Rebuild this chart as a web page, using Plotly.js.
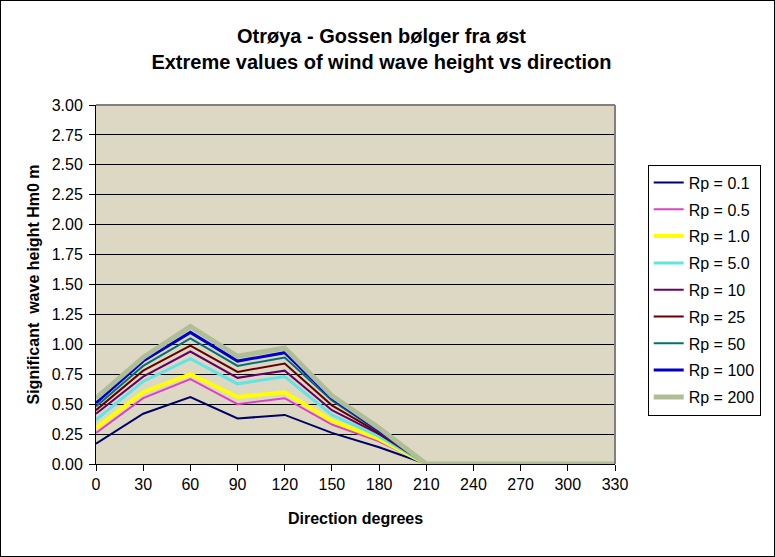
<!DOCTYPE html>
<html>
<head>
<meta charset="utf-8">
<script src="https://cdn.plot.ly/plotly-3.0.1.min.js"></script>
<style>
html,body{margin:0;padding:0;background:#fff;}
#wrap{position:relative;width:775px;height:557px;}
#chart{width:775px;height:557px;}
#frame{position:absolute;left:0;top:0;width:775px;height:557px;box-sizing:border-box;border:1px solid #000;pointer-events:none;}
</style>
</head>
<body>
<div id="wrap"><div id="chart"></div><div id="frame"></div></div>
<script>
const directions = [0, 30, 60, 90, 120, 150, 180, 210, 240, 270, 300, 330];
const seriesNames = ['Rp = 0.1','Rp = 0.5','Rp = 1.0','Rp = 5.0','Rp = 10','Rp = 25','Rp = 50','Rp = 100','Rp = 200'];
const rp0_1 = [0.17, 0.42, 0.56, 0.38, 0.41, 0.26, 0.14, 0, 0, 0, 0, 0];
const rp0_5 = [0.26, 0.55, 0.71, 0.50, 0.55, 0.33, 0.19, 0, 0, 0, 0, 0];
const rp1_0 = [0.30, 0.60, 0.75, 0.56, 0.60, 0.36, 0.21, 0, 0, 0, 0, 0];
const rp5_0 = [0.37, 0.69, 0.88, 0.67, 0.73, 0.41, 0.23, 0, 0, 0, 0, 0];
const rp10  = [0.42, 0.73, 0.94, 0.72, 0.78, 0.45, 0.25, 0, 0, 0, 0, 0];
const rp25  = [0.45, 0.78, 0.99, 0.77, 0.84, 0.49, 0.26, 0, 0, 0, 0, 0];
const rp50  = [0.48, 0.82, 1.05, 0.82, 0.89, 0.53, 0.27, 0, 0, 0, 0, 0];
const rp100 = [0.51, 0.86, 1.10, 0.86, 0.93, 0.55, 0.28, 0, 0, 0, 0, 0];
const rp200 = [0.55, 0.89, 1.15, 0.90, 0.97, 0.57, 0.30, 0, 0, 0, 0, 0];
const seriesValues = [rp0_1, rp0_5, rp1_0, rp5_0, rp10, rp25, rp50, rp100, rp200];
const yTickVals = [0, 0.25, 0.5, 0.75, 1.0, 1.25, 1.5, 1.75, 2.0, 2.25, 2.5, 2.75, 3.0];

const colors = ['#000066','#E040C8','#FFFF00','#60E4E4','#660066','#660000','#007070','#0000CC','#AFBE95'];
const widths = [2, 2, 4, 3, 2, 2, 2, 3, 5];

const traces = seriesNames.map((n, i) => ({
  type: 'scatter', mode: 'lines', name: n,
  x: directions, y: seriesValues[i],
  legendgroup: 'g' + i,
  line: {color: colors[i], width: widths[i]},
  hoverinfo: 'x+y+name'
}));

const font = {family: 'Arial, "Liberation Sans", sans-serif', color: '#000'};

const layout = {
  width: 775, height: 557,
  paper_bgcolor: '#ffffff',
  plot_bgcolor: '#DDD8C4',
  margin: {l: 96, r: 160, t: 105, b: 93, pad: 0},
  font: Object.assign({size: 14}, font),
  title: {
    text: '<b>Otrøya - Gossen bølger fra øst<br>Extreme values of wind wave height vs direction</b>',
    font: Object.assign({size: 20}, font),
    x: 0.55, xref: 'paper', xanchor: 'center',
    y: 0.923, yref: 'container', yanchor: 'top'
  },
  xaxis: {
    range: [0, 330], tickvals: directions, ticktext: directions.map(String),
    ticks: 'outside', ticklen: 6, tickcolor: '#000', tickwidth: 1,
    showline: true, linecolor: '#000', linewidth: 1,
    showgrid: false, zeroline: false,
    tickfont: Object.assign({size: 16}, font),
    title: {text: '<b>Direction degrees</b>', font: Object.assign({size: 16}, font), standoff: 20}
  },
  yaxis: {
    range: [0, 3], tickvals: yTickVals, tickformat: '.2f',
    ticks: 'outside', ticklen: 6, tickcolor: '#000', tickwidth: 1,
    showline: true, linecolor: '#000', linewidth: 1,
    showgrid: true, gridcolor: '#000', gridwidth: 1, zeroline: false,
    tickfont: Object.assign({size: 16}, font),
    ticklabelstandoff: 3,
    title: {text: '<b>Significant  wave height Hm0 m</b>', font: Object.assign({size: 16}, font), standoff: 8}
  },
  showlegend: true,
  legend: {
    x: 1.063, y: 0.834, xanchor: 'left', yanchor: 'top',
    bgcolor: '#ffffff', bordercolor: '#000', borderwidth: 1,
    font: Object.assign({size: 16}, font),
    tracegroupgap: 3, traceorder: 'grouped'
  },
  shapes: [
    {type: 'line', xref: 'paper', yref: 'paper', x0: 0, x1: 1, y0: 1, y1: 1, line: {color: '#808080', width: 2}},
    {type: 'line', xref: 'paper', yref: 'paper', x0: 1, x1: 1, y0: 0, y1: 1, line: {color: '#808080', width: 2}}
  ]
};

Plotly.newPlot('chart', traces, layout, {displayModeBar: false, staticPlot: true});
</script>
</body>
</html>
